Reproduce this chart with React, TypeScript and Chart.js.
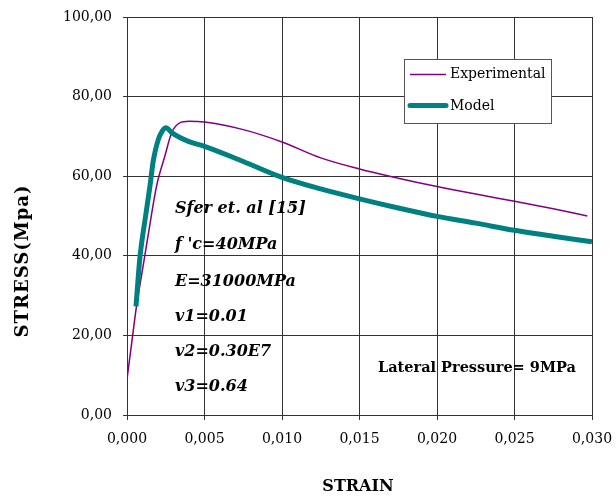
import React, { useEffect, useRef } from "react";
import { Chart, registerables } from "chart.js";

Chart.register(...registerables);

const strainExp = [0, 0.0003, 0.0006, 0.001, 0.0014, 0.0019, 0.00244, 0.00288, 0.0034, 0.004, 0.005, 0.0075, 0.01, 0.0125, 0.015, 0.0175, 0.02, 0.0225, 0.025, 0.0275, 0.0297];
const stressExp = [9, 18, 27, 36.5, 46, 57.4, 65, 70.9, 73.4, 73.8, 73.6, 71.7, 68.6, 64.6, 61.8, 59.5, 57.4, 55.5, 53.7, 51.8, 50];

const strainModel = [0.00058, 0.00084, 0.0012, 0.00148, 0.0017, 0.002, 0.0023, 0.00251, 0.0029, 0.004, 0.005, 0.0075, 0.01, 0.0125, 0.015, 0.0175, 0.02, 0.0225, 0.025, 0.0275, 0.03];
const stressModel = [27.3, 39.8, 50, 57.5, 64, 69, 71.5, 72.2, 70.9, 68.7, 67.5, 63.7, 59.7, 56.8, 54.3, 52, 49.9, 48.2, 46.4, 44.9, 43.5];

const seriesNames = ["Experimental", "Model"];
const xTitle = "STRAIN";
const yTitle = "STRESS(Mpa)";
const notes = ["Sfer et. al [15]", "f 'c=40MPa", "E=31000MPa", "v1=0.01", "v2=0.30E7", "v3=0.64"];
const pressureNote = "Lateral Pressure= 9MPa";

const PURPLE = "#800080";
const TEAL = "#008080";

export default function App() {
  const ref = useRef<HTMLCanvasElement | null>(null);
  useEffect(() => {
    document.body.style.margin = "0";
    const canvas = ref.current;
    if (!canvas) return;

    const overlay = {
      id: "overlay",
      afterDraw(chart: any) {
        const ctx = chart.ctx as CanvasRenderingContext2D;
        ctx.save();
        ctx.fillStyle = "#000";
        // Axis titles
        ctx.font = "bold 16px 'DejaVu Serif'";
        ctx.textAlign = "center";
        ctx.textBaseline = "middle";
        (ctx as any).letterSpacing = "0px";
        ctx.fillText(xTitle, 358, 487);
        ctx.save();
        ctx.translate(23, 261);
        ctx.rotate(-Math.PI / 2);
        ctx.font = "bold 18px 'DejaVu Serif'";
        (ctx as any).letterSpacing = "1px";
        ctx.fillText(yTitle, 0, 0);
        ctx.restore();
        (ctx as any).letterSpacing = "0px";

        // Notes
        ctx.textAlign = "left";
        ctx.font = "italic bold 16px 'DejaVu Serif'";
        const ys = [209, 245, 282, 317, 352, 387];
        notes.forEach((t, i) => ctx.fillText(t, 175, ys[i]));
        ctx.font = "bold 14.5px 'DejaVu Serif'";
        ctx.fillText(pressureNote, 378, 368);

        // Legend
        ctx.fillStyle = "#fff";
        ctx.fillRect(404, 59, 148, 65);
        ctx.strokeStyle = "#555";
        ctx.lineWidth = 1;
        ctx.strokeRect(404.5, 59.5, 147, 64);
        ctx.strokeStyle = PURPLE;
        ctx.lineWidth = 1.5;
        ctx.beginPath();
        ctx.moveTo(410, 74.5);
        ctx.lineTo(446, 74.5);
        ctx.stroke();
        ctx.strokeStyle = TEAL;
        ctx.lineWidth = 5;
        ctx.lineCap = "round";
        ctx.beginPath();
        ctx.moveTo(410, 105.5);
        ctx.lineTo(446, 105.5);
        ctx.stroke();
        ctx.fillStyle = "#000";
        ctx.font = "14px 'DejaVu Serif'";
        ctx.fillText(seriesNames[0], 450, 74);
        ctx.fillText(seriesNames[1], 450, 106);
        ctx.restore();
      },
    };

    const chart = new Chart(canvas, {
      type: "line",
      data: {
        datasets: [
          {
            label: seriesNames[0],
            data: strainExp.map((x, i) => ({ x, y: stressExp[i] })),
            borderColor: PURPLE,
            borderWidth: 1.5,
            pointRadius: 0,
            cubicInterpolationMode: "monotone",
            fill: false,
            order: 1,
          },
          {
            label: seriesNames[1],
            data: strainModel.map((x, i) => ({ x, y: stressModel[i] })),
            borderColor: TEAL,
            borderWidth: 5,
            pointRadius: 0,
            cubicInterpolationMode: "monotone",
            fill: false,
            order: 0,
          },
        ],
      },
      options: {
        responsive: false,
        animation: false,
        layout: { padding: { left: 0, top: 17, right: 24, bottom: 0 } },
        plugins: { legend: { display: false }, tooltip: { enabled: false } },
        scales: {
          x: {
            type: "linear",
            min: 0,
            max: 0.03,
            afterFit: (s: any) => {
              s.height = 84;
              s.paddingLeft = 0;
              s.paddingRight = 0;
            },
            ticks: {
              stepSize: 0.005,
              color: "#000",
              font: { family: "'DejaVu Serif'", size: 14 },
              padding: 11,
              maxRotation: 0,
              callback: (v: any) => Number(v).toFixed(3).replace(".", ","),
            },
            grid: { color: "#333", lineWidth: 1, tickLength: 5, drawTicks: true },
            border: { color: "#333", width: 1 },
          },
          y: {
            min: 0,
            max: 100,
            afterFit: (s: any) => {
              s.width = 127;
              s.paddingTop = 0;
              s.paddingBottom = 0;
            },
            ticks: {
              stepSize: 20,
              color: "#000",
              font: { family: "'DejaVu Serif'", size: 14 },
              padding: 11,
              callback: (v: any) => Number(v).toFixed(2).replace(".", ","),
            },
            grid: { color: "#333", lineWidth: 1, tickLength: 4, drawTicks: true },
            border: { color: "#333", width: 1 },
          },
        },
      },
      plugins: [overlay],
    } as any);
    return () => chart.destroy();
  }, []);
  return <canvas ref={ref} width={616} height={499} style={{ display: "block" }} />;
}
